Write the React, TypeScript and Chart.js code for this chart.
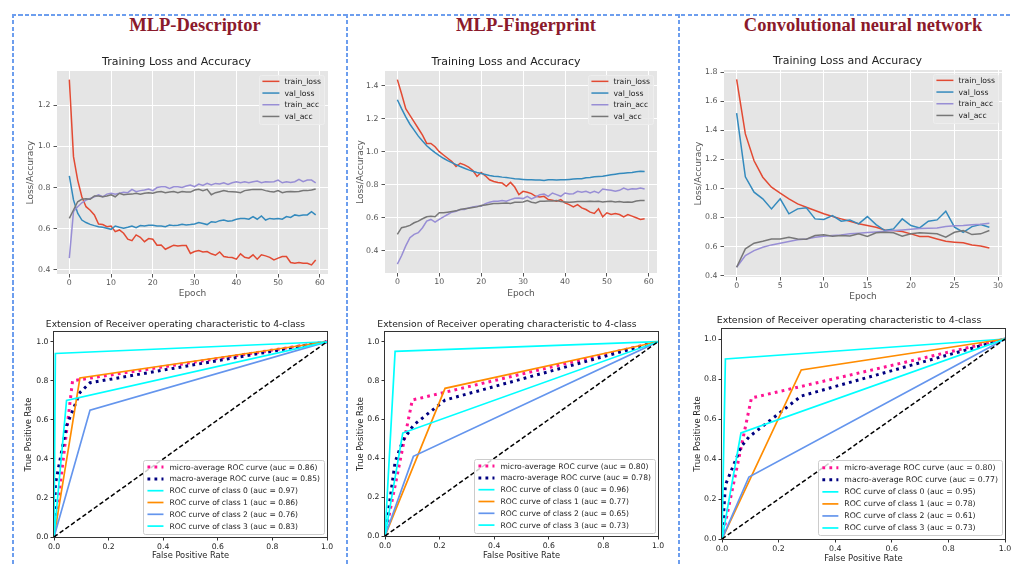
import React, { useEffect, useRef } from 'react';
import { Chart, registerables } from 'chart.js';

Chart.register(...registerables);
const DV = "'DejaVu Sans', sans-serif";
Chart.defaults.font.family = DV;

// ---------------- Column titles ----------------
const columnTitles = ['MLP-Descriptor', 'MLP-Fingerprint', 'Convolutional neural network'];

// ---------------- Training curves ----------------
const LOSS_NAMES = ['train_loss', 'val_loss', 'train_acc', 'val_acc'];
const LOSS_COLORS = ['#E24A33', '#348ABD', '#988ED5', '#777777'];

const descTrainLoss = [1.324, 0.95, 0.836, 0.755, 0.707, 0.69, 0.667, 0.623, 0.62, 0.61, 0.613, 0.586, 0.594, 0.578, 0.549, 0.542, 0.57, 0.558, 0.537, 0.552, 0.549, 0.52, 0.521, 0.5, 0.51, 0.52, 0.516, 0.518, 0.518, 0.48, 0.489, 0.494, 0.487, 0.489, 0.478, 0.471, 0.487, 0.465, 0.461, 0.46, 0.452, 0.478, 0.461, 0.457, 0.473, 0.452, 0.473, 0.468, 0.461, 0.448, 0.457, 0.465, 0.465, 0.436, 0.432, 0.436, 0.432, 0.432, 0.424, 0.448];
const descValLoss = [0.857, 0.74, 0.675, 0.642, 0.63, 0.621, 0.615, 0.61, 0.607, 0.602, 0.597, 0.613, 0.607, 0.602, 0.607, 0.613, 0.605, 0.615, 0.613, 0.617, 0.617, 0.613, 0.613, 0.61, 0.618, 0.615, 0.617, 0.621, 0.618, 0.62, 0.623, 0.63, 0.625, 0.62, 0.634, 0.631, 0.639, 0.642, 0.636, 0.639, 0.646, 0.649, 0.65, 0.646, 0.659, 0.646, 0.662, 0.642, 0.65, 0.647, 0.65, 0.646, 0.659, 0.655, 0.667, 0.663, 0.667, 0.667, 0.683, 0.667];
const descTrainAcc = [0.457, 0.683, 0.707, 0.726, 0.739, 0.747, 0.755, 0.764, 0.755, 0.768, 0.772, 0.768, 0.772, 0.777, 0.775, 0.791, 0.78, 0.785, 0.788, 0.793, 0.785, 0.8, 0.804, 0.804, 0.796, 0.804, 0.804, 0.8, 0.807, 0.812, 0.804, 0.817, 0.81, 0.82, 0.812, 0.82, 0.817, 0.823, 0.815, 0.823, 0.828, 0.823, 0.828, 0.823, 0.828, 0.832, 0.823, 0.828, 0.827, 0.828, 0.836, 0.823, 0.828, 0.825, 0.828, 0.84, 0.828, 0.836, 0.836, 0.823];
const descValAcc = [0.65, 0.691, 0.731, 0.743, 0.746, 0.743, 0.759, 0.759, 0.755, 0.759, 0.765, 0.755, 0.772, 0.765, 0.767, 0.768, 0.772, 0.767, 0.772, 0.775, 0.772, 0.778, 0.781, 0.775, 0.778, 0.781, 0.775, 0.781, 0.778, 0.778, 0.788, 0.791, 0.785, 0.791, 0.765, 0.775, 0.78, 0.785, 0.781, 0.78, 0.778, 0.775, 0.785, 0.788, 0.791, 0.791, 0.791, 0.785, 0.781, 0.778, 0.785, 0.775, 0.78, 0.781, 0.78, 0.781, 0.785, 0.785, 0.788, 0.793];

const fpTrainLoss = [1.436, 1.35, 1.26, 1.22, 1.18, 1.14, 1.1, 1.05, 1.05, 1.03, 1.0, 0.98, 0.96, 0.94, 0.91, 0.93, 0.92, 0.906, 0.886, 0.85, 0.874, 0.854, 0.83, 0.82, 0.814, 0.81, 0.79, 0.814, 0.786, 0.74, 0.76, 0.754, 0.746, 0.73, 0.726, 0.73, 0.71, 0.706, 0.7, 0.71, 0.69, 0.68, 0.666, 0.68, 0.66, 0.65, 0.634, 0.626, 0.654, 0.606, 0.63, 0.62, 0.626, 0.62, 0.606, 0.62, 0.61, 0.6, 0.59, 0.594];
const fpValLoss = [1.314, 1.26, 1.21, 1.166, 1.13, 1.094, 1.064, 1.036, 1.014, 0.994, 0.976, 0.96, 0.946, 0.934, 0.922, 0.91, 0.9, 0.89, 0.882, 0.874, 0.868, 0.862, 0.856, 0.852, 0.85, 0.846, 0.844, 0.84, 0.836, 0.834, 0.832, 0.83, 0.83, 0.828, 0.828, 0.826, 0.83, 0.83, 0.828, 0.83, 0.83, 0.832, 0.834, 0.836, 0.836, 0.842, 0.844, 0.848, 0.85, 0.852, 0.856, 0.86, 0.864, 0.868, 0.87, 0.872, 0.874, 0.878, 0.882, 0.88];
const fpTrainAcc = [0.32, 0.37, 0.43, 0.48, 0.5, 0.51, 0.54, 0.58, 0.59, 0.574, 0.59, 0.606, 0.62, 0.634, 0.64, 0.65, 0.65, 0.66, 0.666, 0.67, 0.67, 0.686, 0.694, 0.7, 0.7, 0.704, 0.7, 0.71, 0.718, 0.72, 0.716, 0.73, 0.714, 0.726, 0.74, 0.744, 0.73, 0.75, 0.74, 0.73, 0.75, 0.744, 0.746, 0.76, 0.754, 0.76, 0.75, 0.76, 0.75, 0.774, 0.77, 0.766, 0.76, 0.766, 0.78, 0.77, 0.776, 0.774, 0.78, 0.774];
const fpValAcc = [0.5, 0.54, 0.546, 0.554, 0.57, 0.58, 0.594, 0.606, 0.61, 0.606, 0.63, 0.63, 0.634, 0.638, 0.642, 0.65, 0.654, 0.658, 0.662, 0.666, 0.674, 0.678, 0.682, 0.686, 0.686, 0.688, 0.69, 0.686, 0.694, 0.694, 0.696, 0.704, 0.694, 0.69, 0.7, 0.7, 0.702, 0.702, 0.704, 0.698, 0.696, 0.694, 0.696, 0.698, 0.698, 0.698, 0.7, 0.698, 0.7, 0.696, 0.698, 0.7, 0.696, 0.698, 0.694, 0.696, 0.694, 0.702, 0.704, 0.704];

const cnnTrainLoss = [1.75, 1.375, 1.19, 1.077, 1.008, 0.967, 0.928, 0.893, 0.87, 0.848, 0.825, 0.806, 0.79, 0.774, 0.756, 0.744, 0.733, 0.714, 0.71, 0.703, 0.687, 0.669, 0.669, 0.652, 0.636, 0.63, 0.625, 0.611, 0.604, 0.59];
const cnnValLoss = [1.518, 1.08, 0.974, 0.928, 0.859, 0.928, 0.825, 0.859, 0.866, 0.79, 0.786, 0.813, 0.774, 0.783, 0.756, 0.806, 0.751, 0.71, 0.721, 0.79, 0.744, 0.728, 0.774, 0.783, 0.843, 0.733, 0.698, 0.737, 0.751, 0.733];
const cnnTrainAcc = [0.457, 0.538, 0.572, 0.595, 0.611, 0.623, 0.634, 0.646, 0.652, 0.664, 0.671, 0.675, 0.68, 0.687, 0.691, 0.696, 0.7, 0.705, 0.71, 0.714, 0.719, 0.724, 0.726, 0.728, 0.737, 0.742, 0.744, 0.749, 0.753, 0.76];
const cnnValAcc = [0.457, 0.584, 0.623, 0.636, 0.652, 0.652, 0.664, 0.652, 0.65, 0.675, 0.68, 0.671, 0.675, 0.673, 0.687, 0.669, 0.694, 0.698, 0.694, 0.671, 0.687, 0.694, 0.691, 0.687, 0.664, 0.698, 0.71, 0.682, 0.687, 0.71];

const epochTicks60 = [0, 10, 20, 30, 40, 50, 60];
const epochTicks30 = [0, 5, 10, 15, 20, 25, 30];
const descYTicks = [0.4, 0.6, 0.8, 1.0, 1.2];
const fpYTicks = [0.4, 0.6, 0.8, 1.0, 1.2, 1.4];
const cnnYTicks = [0.4, 0.6, 0.8, 1.0, 1.2, 1.4, 1.6, 1.8];

// ---------------- ROC curves ----------------
const ROC_NAMES = ['micro-average ROC curve', 'macro-average ROC curve', 'ROC curve of class 0', 'ROC curve of class 1', 'ROC curve of class 2', 'ROC curve of class 3'];
const ROC_COLORS = ['#FF1493', '#000080', '#00FFFF', '#FF8C00', '#6495ED', '#00FFFF'];
const rocTicks = [0, 0.2, 0.4, 0.6, 0.8, 1.0];
const rocDiagonal = [[0, 0], [1, 1]];

const descMicro = [[0, 0], [0.068, 0.8], [1, 1]];
const descMacro = [[0, 0], [0.005, 0.27], [0.046, 0.57], [0.095, 0.74], [0.132, 0.79], [1, 1]];
const descClass0 = [[0, 0], [0.005, 0.94], [1, 1]];
const descClass1 = [[0, 0], [0.095, 0.815], [1, 1]];
const descClass2 = [[0, 0], [0.132, 0.65], [1, 1]];
const descClass3 = [[0, 0], [0.046, 0.7], [1, 1]];
const descAuc = [0.86, 0.85, 0.97, 0.86, 0.76, 0.83];

const fpMicro = [[0, 0], [0.1, 0.7], [1, 1]];
const fpMacro = [[0, 0], [0.037, 0.38], [0.065, 0.49], [0.104, 0.57], [0.22, 0.7], [1, 1]];
const fpClass0 = [[0, 0], [0.037, 0.95], [1, 1]];
const fpClass1 = [[0, 0], [0.22, 0.76], [1, 1]];
const fpClass2 = [[0, 0], [0.104, 0.41], [1, 1]];
const fpClass3 = [[0, 0], [0.065, 0.53], [1, 1]];
const fpAuc = [0.8, 0.78, 0.96, 0.77, 0.65, 0.73];

const cnnMicro = [[0, 0], [0.104, 0.705], [1, 1]];
const cnnMacro = [[0, 0], [0.012, 0.27], [0.067, 0.46], [0.095, 0.51], [0.28, 0.715], [1, 1]];
const cnnClass0 = [[0, 0], [0.012, 0.9], [1, 1]];
const cnnClass1 = [[0, 0], [0.28, 0.845], [1, 1]];
const cnnClass2 = [[0, 0], [0.095, 0.31], [1, 1]];
const cnnClass3 = [[0, 0], [0.067, 0.53], [1, 1]];
const cnnAuc = [0.8, 0.77, 0.95, 0.78, 0.61, 0.73];

// ---------------- plugins ----------------
const plotBg = {
  id: 'plotBg',
  beforeDraw(chart: any, _a: any, opts: any) {
    if (!opts || !opts.color) return;
    const { ctx, chartArea } = chart;
    ctx.save();
    ctx.fillStyle = opts.color;
    ctx.fillRect(chartArea.left, chartArea.top, chartArea.right - chartArea.left, chartArea.bottom - chartArea.top);
    ctx.restore();
  },
};

const frame = {
  id: 'frame',
  afterDatasetsDraw(chart: any, _a: any, opts: any) {
    if (!opts || !opts.color) return;
    const { ctx, chartArea } = chart;
    ctx.save();
    ctx.strokeStyle = opts.color;
    ctx.lineWidth = 1;
    ctx.strokeRect(chartArea.left - 0.5, chartArea.top - 0.5, chartArea.right - chartArea.left + 1, chartArea.bottom - chartArea.top + 1);
    ctx.restore();
  },
};

const boxLegend = {
  id: 'boxLegend',
  afterDraw(chart: any, _a: any, o: any) {
    if (!o || !o.fontSize) return;
    const { ctx, chartArea } = chart;
    const items = chart.data.datasets.filter((d: any) => d.label);
    ctx.save();
    ctx.font = `${o.fontSize}px ${DV}`;
    const tw = Math.max(...items.map((d: any) => ctx.measureText(d.label).width));
    const w = o.padL + o.lineLen + o.gap + tw + o.padR;
    const h = o.padT + items.length * o.rowH + o.padB;
    const x = chartArea.right - o.insetX - w;
    const y = o.corner === 'tr' ? chartArea.top + o.insetY : chartArea.bottom - o.insetY - h;
    ctx.beginPath();
    ctx.roundRect(Math.round(x) + 0.5, Math.round(y) + 0.5, Math.round(w), Math.round(h), 2);
    ctx.fillStyle = o.fill;
    ctx.fill();
    ctx.strokeStyle = o.stroke;
    ctx.lineWidth = 1;
    ctx.stroke();
    items.forEach((d: any, i: number) => {
      const cy = y + o.padT + o.rowH * (i + 0.5);
      ctx.beginPath();
      ctx.setLineDash(d.borderDash || []);
      ctx.lineCap = 'butt';
      ctx.lineWidth = d.borderWidth;
      ctx.strokeStyle = d.borderColor;
      ctx.moveTo(x + o.padL, cy);
      ctx.lineTo(x + o.padL + o.lineLen, cy);
      ctx.stroke();
      ctx.setLineDash([]);
      ctx.fillStyle = o.textColor;
      ctx.textAlign = 'left';
      ctx.textBaseline = 'middle';
      ctx.fillText(d.label, x + o.padL + o.lineLen + o.gap, cy + 0.5);
    });
    ctx.restore();
  },
};

// ---------------- geometry ----------------
type Geo = { l: number; t: number; r: number; b: number; yW: number; xH: number; titleH: number; padR: number };

const zeroPad = (s: any) => {
  s.paddingLeft = 0; s.paddingRight = 0; s.paddingTop = 0; s.paddingBottom = 0;
};

function lossConfig(series: number[][], xTicks: number[], yTicks: number[], xr: number[], yr: number[], geo: Geo) {
  const datasets = series.map((vals, i) => ({
    label: LOSS_NAMES[i],
    data: vals.map((v, k) => ({ x: k, y: v })),
    borderColor: LOSS_COLORS[i],
    backgroundColor: LOSS_COLORS[i],
    borderWidth: 1.5,
    pointRadius: 0,
    order: series.length - i,
  }));
  const tickFont = { family: DV, size: 7.8 };
  const labelFont = { family: DV, size: 9, lineHeight: 1.2 };
  return {
    type: 'line',
    data: { datasets },
    options: {
      animation: false,
      responsive: false,
      events: [],
      layout: { padding: { left: 0, top: 0, bottom: 0, right: geo.padR } },
      plugins: {
        legend: { display: false },
        tooltip: { enabled: false },
        title: {
          display: true,
          text: 'Training Loss and Accuracy',
          color: '#222222',
          font: { family: DV, size: 11, weight: 'normal', lineHeight: 1.2 },
          padding: { top: 0, bottom: geo.titleH - 13.2 },
        },
        plotBg: { color: '#E5E5E5' },
        boxLegend: {
          corner: 'tr', insetX: 4, insetY: 4, fontSize: 7.7, rowH: 11.7, padT: 0.5, padB: 1.5,
          padL: 3, lineLen: 17, gap: 5, padR: 3,
          fill: 'rgba(231,231,231,0.85)', stroke: '#eeeeee', textColor: '#222222',
        },
      },
      scales: {
        x: {
          type: 'linear', min: xr[0], max: xr[1],
          afterBuildTicks: (s: any) => { s.ticks = xTicks.map((v) => ({ value: v })); },
          afterFit: (s: any) => { s.height = geo.xH; zeroPad(s); },
          grid: { color: '#FFFFFF', lineWidth: 1, tickColor: '#555555', tickLength: 3.5, drawTicks: true },
          border: { display: false },
          ticks: { font: tickFont, color: '#555555', padding: 1, autoSkip: false, maxRotation: 0, callback: (v: any) => String(v) },
          title: { display: true, text: 'Epoch', color: '#555555', font: labelFont, padding: 0 },
        },
        y: {
          type: 'linear', min: yr[0], max: yr[1],
          afterBuildTicks: (s: any) => { s.ticks = yTicks.map((v) => ({ value: v })); },
          afterFit: (s: any) => { s.width = geo.yW; zeroPad(s); },
          grid: { color: '#FFFFFF', lineWidth: 1, tickColor: '#555555', tickLength: 3.5, drawTicks: true },
          border: { display: false },
          ticks: { font: tickFont, color: '#555555', padding: 3, autoSkip: false, callback: (v: any) => Number(v).toFixed(1) },
          title: { display: true, text: 'Loss/Accuracy', color: '#555555', font: labelFont, padding: 0 },
        },
      },
    },
    plugins: [plotBg, boxLegend],
  };
}

function rocConfig(curves: number[][][], aucs: number[], geo: Geo, k: number) {
  const datasets: any[] = curves.map((pts, i) => ({
    label: `${ROC_NAMES[i]} (auc = ${aucs[i].toFixed(2)})`,
    data: pts.map((p) => ({ x: p[0], y: p[1] })),
    borderColor: ROC_COLORS[i],
    backgroundColor: ROC_COLORS[i],
    borderWidth: i < 2 ? 3 : 1.7,
    borderDash: i < 2 ? [2.8, 4.2] : [],
    borderCapStyle: 'butt',
    pointRadius: 0,
    order: 7 - i,
  }));
  datasets.push({
    label: '',
    data: rocDiagonal.map((p) => ({ x: p[0], y: p[1] })),
    borderColor: '#000000',
    borderWidth: 1.5,
    borderDash: [4.5, 2.5],
    pointRadius: 0,
    order: 0,
  });
  const tickFont = { family: DV, size: 7.7 * k };
  const labelFont = { family: DV, size: 8.3 * k, lineHeight: 1.2 };
  const tfs = 9.2 * k;
  return {
    type: 'line',
    data: { datasets },
    options: {
      animation: false,
      responsive: false,
      events: [],
      layout: { padding: { left: 0, top: 0, bottom: 0, right: geo.padR } },
      plugins: {
        legend: { display: false },
        tooltip: { enabled: false },
        title: {
          display: true,
          text: 'Extension of Receiver operating characteristic to 4-class',
          color: '#222222',
          font: { family: DV, size: tfs, weight: 'normal', lineHeight: 1.2 },
          padding: { top: 0, bottom: geo.titleH - tfs * 1.2 },
        },
        frame: { color: '#333333' },
        boxLegend: {
          corner: 'br', insetX: 3, insetY: 3.5, fontSize: 7.6 * k, rowH: 11.8 * k, padT: 1.5, padB: 1.5,
          padL: 4, lineLen: 16, gap: 6, padR: 4,
          fill: 'rgba(255,255,255,0.8)', stroke: '#cccccc', textColor: '#222222',
        },
      },
      scales: {
        x: {
          type: 'linear', min: 0, max: 1,
          afterBuildTicks: (s: any) => { s.ticks = rocTicks.map((v) => ({ value: v })); },
          afterFit: (s: any) => { s.height = geo.xH; zeroPad(s); },
          grid: { drawOnChartArea: false, tickColor: '#333333', tickLength: 3.5, drawTicks: true },
          border: { display: false },
          ticks: { font: tickFont, color: '#262626', padding: 1.6, autoSkip: false, maxRotation: 0, callback: (v: any) => Number(v).toFixed(1) },
          title: { display: true, text: 'False Positive Rate', color: '#262626', font: labelFont, padding: 0 },
        },
        y: {
          type: 'linear', min: 0, max: 1.05,
          afterBuildTicks: (s: any) => { s.ticks = rocTicks.map((v) => ({ value: v })); },
          afterFit: (s: any) => { s.width = geo.yW; zeroPad(s); },
          grid: { drawOnChartArea: false, tickColor: '#333333', tickLength: 3.5, drawTicks: true },
          border: { display: false },
          ticks: { font: tickFont, color: '#262626', padding: 2, autoSkip: false, callback: (v: any) => Number(v).toFixed(1) },
          title: { display: true, text: 'True Positive Rate', color: '#262626', font: labelFont, padding: 0 },
        },
      },
    },
    plugins: [frame, boxLegend],
  };
}

function ChartBox({ geo, build }: { geo: Geo; build: () => any }) {
  const ref = useRef<HTMLCanvasElement | null>(null);
  useEffect(() => {
    const chart = new Chart(ref.current as HTMLCanvasElement, build());
    return () => chart.destroy();
  }, []);
  const w = geo.r - geo.l + geo.yW + geo.padR;
  const h = geo.b - geo.t + geo.titleH + geo.xH;
  return (
    <canvas
      ref={ref}
      width={w}
      height={h}
      style={{ position: 'absolute', left: geo.l - geo.yW, top: geo.t - geo.titleH, width: w, height: h, display: 'block' }}
    />
  );
}

const geoDescLoss: Geo = { l: 57, t: 71, r: 328, b: 274, yW: 32, xH: 25, titleH: 15, padR: 8 };
const geoFpLoss: Geo = { l: 385, t: 71, r: 657, b: 273, yW: 30, xH: 26, titleH: 15, padR: 8 };
const geoCnnLoss: Geo = { l: 724, t: 70, r: 1002, b: 277, yW: 31, xH: 25, titleH: 15, padR: 8 };
const geoDescRoc: Geo = { l: 54, t: 332, r: 327, b: 537, yW: 30, xH: 24, titleH: 13, padR: 10 };
const geoFpRoc: Geo = { l: 385, t: 332, r: 658, b: 536, yW: 29, xH: 25, titleH: 13, padR: 10 };
const geoCnnRoc: Geo = { l: 722, t: 329, r: 1005, b: 539, yW: 29, xH: 25, titleH: 14, padR: 6 };

const BORDER = '#6d9eee';

function HDash({ left, top, width }: { left: number; top: number; width: number }) {
  return (
    <div style={{ position: 'absolute', left, top, width, height: 1.5, background: `repeating-linear-gradient(to right, ${BORDER} 0 4px, transparent 4px 6.5px)` }} />
  );
}
function VDash({ left, top, height }: { left: number; top: number; height: number }) {
  return (
    <div style={{ position: 'absolute', left, top, width: 1.5, height, background: `repeating-linear-gradient(to bottom, ${BORDER} 0 4px, transparent 4px 6.5px)` }} />
  );
}

function Header({ cx, text }: { cx: number; text: string }) {
  return (
    <div
      style={{
        position: 'absolute', left: cx - 170, width: 340, top: 15, textAlign: 'center',
        fontFamily: "'Liberation Serif', 'Times New Roman', serif", fontWeight: 'bold', fontSize: 18.5,
        lineHeight: '20px', color: '#8B1A2B', whiteSpace: 'nowrap',
      }}
    >
      {text}
    </div>
  );
}

export default function App() {
  return (
    <div style={{ position: 'fixed', left: 0, top: 0, width: 1011, height: 565, background: '#ffffff', overflow: 'hidden' }}>
      <HDash left={12} top={14} width={999} />
      <VDash left={12} top={14} height={551} />
      <VDash left={346} top={14} height={551} />
      <VDash left={678} top={14} height={551} />
      <Header cx={195} text={columnTitles[0]} />
      <Header cx={526} text={columnTitles[1]} />
      <Header cx={863} text={columnTitles[2]} />
      <ChartBox geo={geoDescLoss} build={() => lossConfig([descTrainLoss, descValLoss, descTrainAcc, descValAcc], epochTicks60, descYTicks, [-2.95, 61.95], [0.38, 1.366], geoDescLoss)} />
      <ChartBox geo={geoFpLoss} build={() => lossConfig([fpTrainLoss, fpValLoss, fpTrainAcc, fpValAcc], epochTicks60, fpYTicks, [-2.95, 61.95], [0.266, 1.488], geoFpLoss)} />
      <ChartBox geo={geoCnnLoss} build={() => lossConfig([cnnTrainLoss, cnnValLoss, cnnTrainAcc, cnnValAcc], epochTicks30, cnnYTicks, [-1.45, 30.45], [0.39, 1.815], geoCnnLoss)} />
      <ChartBox geo={geoDescRoc} build={() => rocConfig([descMicro, descMacro, descClass0, descClass1, descClass2, descClass3], descAuc, geoDescRoc, 1)} />
      <ChartBox geo={geoFpRoc} build={() => rocConfig([fpMicro, fpMacro, fpClass0, fpClass1, fpClass2, fpClass3], fpAuc, geoFpRoc, 1)} />
      <ChartBox geo={geoCnnRoc} build={() => rocConfig([cnnMicro, cnnMacro, cnnClass0, cnnClass1, cnnClass2, cnnClass3], cnnAuc, geoCnnRoc, 1.02)} />
    </div>
  );
}
